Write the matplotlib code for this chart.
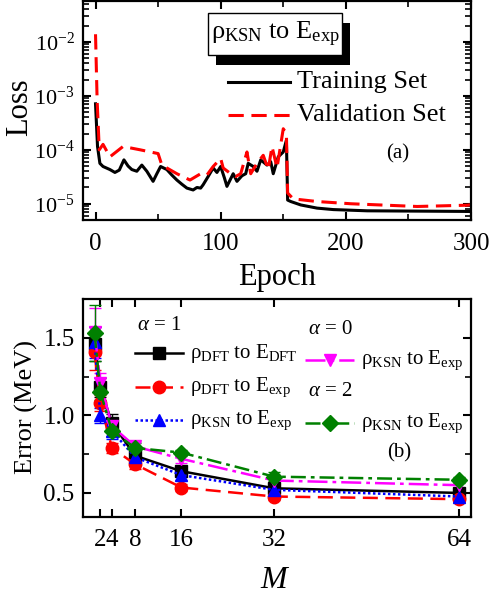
"""
Loss curves (a) and error vs M (b), two stacked panels.
"""

import matplotlib.pyplot as plt
import numpy as np
from matplotlib.lines import Line2D
from matplotlib.patches import Rectangle
from matplotlib.ticker import FixedLocator, NullFormatter, MultipleLocator

#-------------------------------------------------------------------------------
# DATA
#-------------------------------------------------------------------------------

# panel (a): loss vs epoch
train_epoch = [0, 1.6, 3.5, 6, 11.5, 15.5, 19, 22.7, 26, 29, 33, 37, 41, 46,
               49, 52, 57, 61, 65, 69, 73, 78, 81, 84, 86, 90, 94, 97, 100,
               103, 105, 110, 113, 117, 120, 122, 126, 129, 132, 137, 140,
               142, 146, 150, 152.5, 153.5, 156, 164, 177, 190, 217, 300]
train_loss = [7.1e-4, 1.15e-4, 5.6e-5, 4.9e-5, 4.3e-5, 3.8e-5, 4.2e-5, 6.5e-5,
              5.0e-5, 4.3e-5, 4.0e-5, 5.2e-5, 4.0e-5, 2.6e-5, 3.6e-5, 4.9e-5,
              4.3e-5, 3.4e-5, 2.75e-5, 2.3e-5, 1.95e-5, 1.8e-5, 2.0e-5, 1.95e-5,
              2.25e-5, 3.2e-5, 4.6e-5, 3.8e-5, 4.9e-5, 3.0e-5, 2.1e-5, 3.6e-5,
              2.6e-5, 3.3e-5, 3.6e-5, 5.6e-5, 4.9e-5, 4.0e-5, 6.5e-5, 5.2e-5,
              6.0e-5, 3.6e-5, 7.4e-5, 9.1e-5, 1.5e-4, 1.17e-5, 1.1e-5, 9.5e-6,
              8.3e-6, 7.8e-6, 7.4e-6, 7.2e-6]

val_epoch = [0, 1.3, 3, 6, 11.5, 22, 35.5, 50, 53, 65, 75.5, 84, 89, 94, 100,
             102, 108, 112, 116, 121, 124, 129, 134, 138, 141, 145, 150, 152.5,
             153.5, 158, 177, 204, 257, 297, 300]
val_loss = [1.38e-2, 8.1e-4, 1.0e-4, 1.26e-4, 7.4e-5, 1.15e-4, 1.0e-4, 8.5e-5,
            5.2e-5, 3.6e-5, 2.75e-5, 3.6e-5, 3.4e-5, 4.9e-5, 6.9e-5, 4.6e-5,
            3.6e-5, 3.2e-5, 3.6e-5, 9.1e-5, 3.6e-5, 5.6e-5, 7.9e-5, 4.3e-5,
            1.15e-4, 4.6e-5, 2.45e-4, 2.0e-4, 1.58e-5, 1.23e-5, 1.1e-5, 1.0e-5,
            8.9e-6, 9.4e-6, 9.6e-6]

# panel (b): error (MeV) vs M
M = [1, 2, 4, 8, 16, 32, 64]
M_ticks = [2, 4, 8, 16, 32, 64]

dft_dft = [1.46, 1.18, 0.95, 0.74, 0.64, 0.53, 0.50]
dft_dft_err = [0.11, 0.06, 0.06, 0.03, 0.03, 0.02, 0.02]
dft_exp = [1.41, 1.08, 0.79, 0.685, 0.535, 0.477, 0.46]
dft_exp_err = [0.12, 0.05, 0.03, 0.03, 0.02, 0.02, 0.02]
ksn_exp = [1.47, 1.00, 0.90, 0.73, 0.615, 0.52, 0.477]
ksn_exp_err = [0.10, 0.05, 0.05, 0.03, 0.03, 0.02, 0.02]
ksn_a0 = [1.54, 1.21, 0.93, 0.80, 0.72, 0.58, 0.55]
ksn_a0_err = [0.15, 0.06, 0.04, 0.03, 0.03, 0.02, 0.02]
ksn_a2 = [1.53, 1.15, 0.90, 0.79, 0.76, 0.605, 0.585]
ksn_a2_err = [0.18, 0.05, 0.03, 0.03, 0.02, 0.03, 0.02]

RHO_KSN = 'ρ$_{\\mathrm{KSN}}$ to E$_{\\mathrm{exp}}$'
RHO_DFT_DFT = 'ρ$_{\\mathrm{DFT}}$ to E$_{\\mathrm{DFT}}$'
RHO_DFT_EXP = 'ρ$_{\\mathrm{DFT}}$ to E$_{\\mathrm{exp}}$'

#-------------------------------------------------------------------------------
# STYLE
#-------------------------------------------------------------------------------

plt.rcParams['font.family'] = ['Liberation Serif', 'DejaVu Serif']
plt.rcParams['mathtext.fontset'] = 'custom'
plt.rcParams['mathtext.rm'] = 'Liberation Serif'
plt.rcParams['mathtext.it'] = 'Liberation Serif:italic'
plt.rcParams['axes.unicode_minus'] = False
plt.rcParams['axes.linewidth'] = 1.6
for ax_name in ['xtick', 'ytick']:
    plt.rcParams[ax_name + '.direction'] = 'in'
    plt.rcParams[ax_name + '.major.width'] = 1.5
    plt.rcParams[ax_name + '.minor.width'] = 1.2
    plt.rcParams[ax_name + '.major.size'] = 6
    plt.rcParams[ax_name + '.minor.size'] = 4
    plt.rcParams[ax_name + '.labelsize'] = 18

W, H = 491, 598

def px_box(x0, y0, x1, y1):
    """pixel box (from top-left) -> figure fraction [left, bottom, w, h]"""
    return [x0 / W, 1 - y1 / H, (x1 - x0) / W, (y1 - y0) / H]

def legend_entry(ax, x, y, label, fs, seg=0.125, marker=None, ms=8, **kw):
    """one hand-made legend row in axes fraction coords"""
    ax.add_line(Line2D([x, x + seg], [y, y], transform=ax.transAxes, **kw))
    if marker:
        ax.add_line(Line2D([x + seg / 2], [y], transform=ax.transAxes,
                           marker=marker, ms=ms, color=kw['color'], ls='none'))
    ax.text(x + seg + 0.018, y, label, transform=ax.transAxes,
            fontsize=fs, va='center', ha='left')

#-------------------------------------------------------------------------------
# MAIN
#-------------------------------------------------------------------------------

def main():
    fig = plt.figure(figsize=(W / 100, H / 100), dpi=100)

    # ---- panel (a)
    ax1 = fig.add_axes(px_box(83, 1, 471, 220))
    ax1.plot(train_epoch, train_loss, color='black', lw=2.2)
    ax1.plot(val_epoch, val_loss, color='red', lw=2.2, ls=(0, (5, 2.5)))
    ax1.set_yscale('log')
    ax1.set_xlim(-10, 300)
    ax1.set_ylim(5e-6, 5.7e-2)
    ax1.set_xticks([0, 100, 200, 300])
    ax1.xaxis.set_minor_locator(MultipleLocator(50))
    ax1.set_yticks([1e-5, 1e-4, 1e-3, 1e-2])
    minor = [s * 10.0 ** k for k in range(-6, -1) for s in range(2, 10)]
    ax1.yaxis.set_minor_locator(FixedLocator(minor))
    ax1.yaxis.set_minor_formatter(NullFormatter())
    ax1.tick_params(which='both', top=True, right=True)
    ax1.tick_params(axis='x', pad=9)
    ax1.tick_params(axis='y', pad=6, labelsize=16)

    # boxed title with a solid shadow
    ax1.add_patch(Rectangle((0.343, 0.708), 0.345, 0.192, transform=ax1.transAxes,
                            facecolor='black', edgecolor='none', zorder=4))
    ax1.add_patch(Rectangle((0.322, 0.753), 0.345, 0.192, transform=ax1.transAxes,
                            facecolor='white', edgecolor='black', lw=1.0,
                            zorder=5))
    ax1.text(0.495, 0.845, RHO_KSN, transform=ax1.transAxes, fontsize=19,
             ha='center', va='center', zorder=6)

    legend_entry(ax1, 0.374, 0.63, 'Training Set', 19, seg=0.16,
                 color='black', lw=2.2)
    legend_entry(ax1, 0.374, 0.479, 'Validation Set', 19, seg=0.16,
                 color='red', lw=2.2, ls=(0, (5, 2.5)))
    ax1.text(0.81, 0.30, '(a)', transform=ax1.transAxes, fontsize=15,
             ha='center', va='center')

    # ---- panel (b)
    ax2 = fig.add_axes(px_box(83, 299, 471, 517))
    series = [
        (dft_dft, dft_dft_err, 'black', 's', '-', 8),
        (dft_exp, dft_exp_err, 'red', 'o', (0, (6, 3)), 9),
        (ksn_exp, ksn_exp_err, 'blue', '^', (0, (1, 1)), 9),
        (ksn_a0, ksn_a0_err, 'magenta', 'v', (0, (8, 2, 1.5, 2)), 9),
        (ksn_a2, ksn_a2_err, 'green', 'D', (0, (6, 2, 1.5, 2)), 8),
    ]
    for vals, errs, col, mk, ls, ms in series:
        ax2.errorbar(M, vals, yerr=errs, color=col, marker=mk, ms=ms, ls=ls,
                     lw=1.8, capsize=4, elinewidth=1.0, capthick=1.0)
    ax2.set_xlim(-1, 66)
    ax2.set_ylim(0.345, 1.75)
    ax2.set_xticks(M_ticks)
    ax2.set_xticklabels([str(m) for m in M_ticks])
    ax2.set_yticks([0.5, 1.0, 1.5])
    ax2.yaxis.set_minor_locator(MultipleLocator(0.25))
    ax2.tick_params(which='both', top=True, right=True)
    ax2.tick_params(axis='x', pad=9)
    ax2.tick_params(axis='y', pad=6)

    fs = 15
    ax2.text(0.14, 0.88, '$\\alpha$ = 1', transform=ax2.transAxes,
             fontsize=fs, va='center')
    legend_entry(ax2, 0.134, 0.752, RHO_DFT_DFT, fs, color='black', lw=1.8,
                 marker='s', ms=8)
    legend_entry(ax2, 0.134, 0.596, RHO_DFT_EXP, fs, color='red', lw=1.8,
                 ls=(0, (6, 3)), marker='o', ms=9)
    legend_entry(ax2, 0.134, 0.445, RHO_KSN, fs, color='blue', lw=1.8,
                 ls=(0, (1, 1)), marker='^', ms=9)
    ax2.text(0.58, 0.862, '$\\alpha$ = 0', transform=ax2.transAxes,
             fontsize=fs, va='center')
    legend_entry(ax2, 0.573, 0.72, RHO_KSN, fs, color='magenta', lw=1.8,
                 ls=(0, (8, 2, 1.5, 2)), marker='v', ms=9)
    ax2.text(0.58, 0.575, '$\\alpha$ = 2', transform=ax2.transAxes,
             fontsize=fs, va='center')
    legend_entry(ax2, 0.573, 0.43, RHO_KSN, fs, color='green', lw=1.8,
                 ls=(0, (6, 2, 1.5, 2)), marker='D', ms=8)
    ax2.text(0.815, 0.295, '(b)', transform=ax2.transAxes, fontsize=fs,
             ha='center', va='center')

    # axis labels placed by pixel centre
    fig.text(20 / W, 1 - 107 / H, 'Loss', rotation=90, fontsize=22,
             ha='center', va='center')
    fig.text(277 / W, 1 - 277 / H, 'Epoch', fontsize=22,
             ha='center', va='center')
    fig.text(26 / W, 1 - 407 / H, 'Error (MeV)', rotation=90, fontsize=19,
             ha='center', va='center')
    fig.text(275 / W, 1 - 581 / H, '$M$', fontsize=23,
             ha='center', va='center')

    fig.savefig('out.png', dpi=100)

if __name__ == '__main__':
    main()
